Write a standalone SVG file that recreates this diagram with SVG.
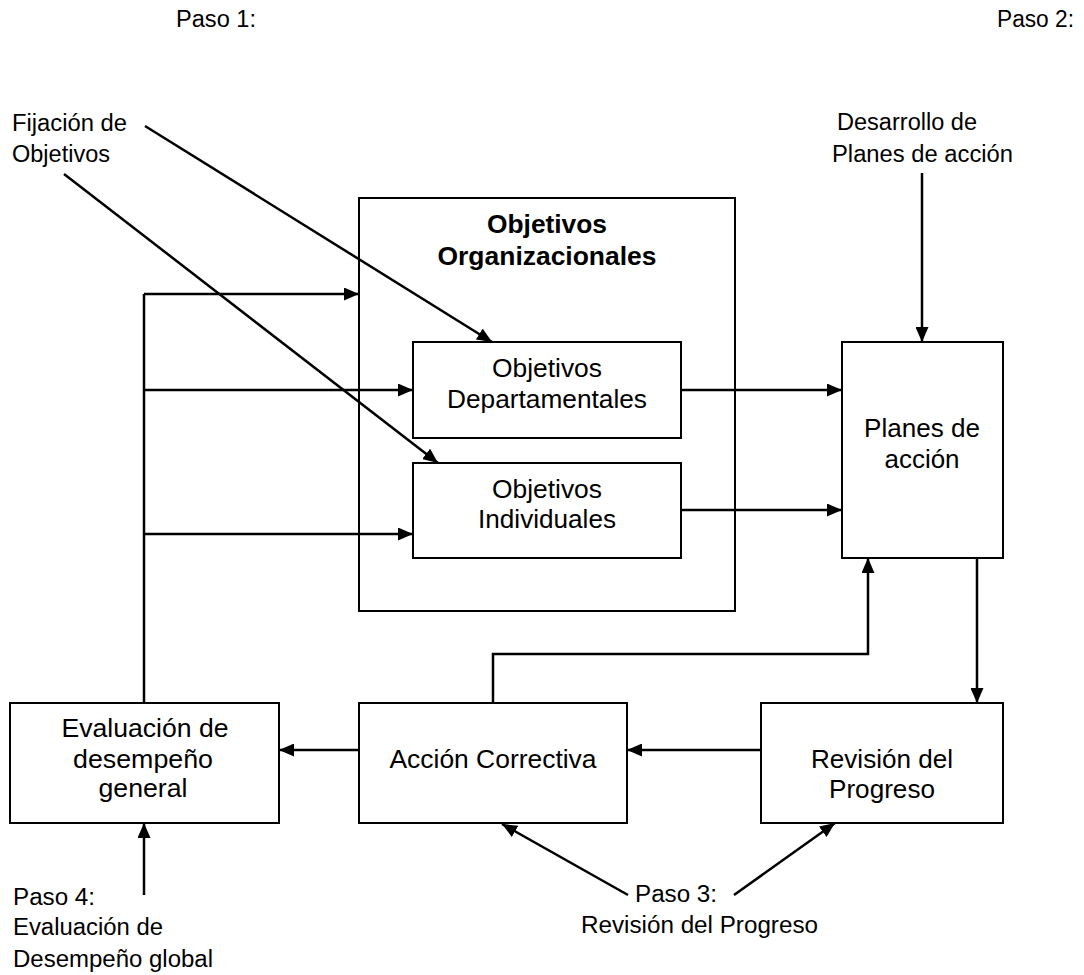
<svg xmlns="http://www.w3.org/2000/svg" width="1084" height="975" viewBox="0 0 1084 975">
<style>
.box{fill:#fff;stroke:#000;stroke-width:2}
.ln{fill:none;stroke:#000;stroke-width:2.5}
.t{font-family:"Liberation Sans",Arial,sans-serif;font-size:25px;fill:#000}
.s{font-family:"Liberation Sans",Arial,sans-serif;font-size:23px;fill:#000}
.b{font-family:"Liberation Sans",Arial,sans-serif;font-size:25px;font-weight:bold;fill:#000}
.m{text-anchor:middle}
</style>
<defs>
<marker id="ah" viewBox="0 0 15 13" refX="15" refY="6.5" markerWidth="15" markerHeight="13" markerUnits="userSpaceOnUse" orient="auto">
<path d="M0,0 L15,6.5 L0,13 Z" fill="#000"/>
</marker>
</defs>
<rect width="1084" height="975" fill="#fff"/>
<g id="org">
<rect class="box" x="359" y="198" width="376" height="413"/>
<text class="b m" x="547" y="233" textLength="120" lengthAdjust="spacingAndGlyphs">Objetivos</text>
<text class="b m" x="547" y="265" textLength="219" lengthAdjust="spacingAndGlyphs">Organizacionales</text>
</g>
<g id="dept">
<rect class="box" x="413" y="342" width="268" height="96"/>
<text class="t m" x="547" y="377" textLength="110" lengthAdjust="spacingAndGlyphs">Objetivos</text>
<text class="t m" x="547" y="408" textLength="200" lengthAdjust="spacingAndGlyphs">Departamentales</text>
</g>
<g id="indiv">
<rect class="box" x="413" y="463" width="268" height="95"/>
<text class="t m" x="547" y="498" textLength="110" lengthAdjust="spacingAndGlyphs">Objetivos</text>
<text class="t m" x="547" y="528" textLength="138" lengthAdjust="spacingAndGlyphs">Individuales</text>
</g>
<g id="planes">
<rect class="box" x="842" y="342" width="161" height="216"/>
<text class="t m" x="922" y="437" textLength="116" lengthAdjust="spacingAndGlyphs">Planes de</text>
<text class="t m" x="922" y="468" textLength="75" lengthAdjust="spacingAndGlyphs">acción</text>
</g>
<g id="evaluacion">
<rect class="box" x="10" y="703" width="269" height="120"/>
<text class="t m" x="145" y="737" textLength="167" lengthAdjust="spacingAndGlyphs">Evaluación de</text>
<text class="t m" x="143" y="768" textLength="140" lengthAdjust="spacingAndGlyphs">desempeño</text>
<text class="t m" x="143" y="797" textLength="89" lengthAdjust="spacingAndGlyphs">general</text>
</g>
<g id="accion">
<rect class="box" x="359" y="703" width="268" height="120"/>
<text class="t m" x="493" y="768" textLength="207" lengthAdjust="spacingAndGlyphs">Acción Correctiva</text>
</g>
<g id="revision">
<rect class="box" x="761" y="703" width="242" height="120"/>
<text class="t m" x="882" y="768" textLength="142" lengthAdjust="spacingAndGlyphs">Revisión del</text>
<text class="t m" x="882" y="798" textLength="106" lengthAdjust="spacingAndGlyphs">Progreso</text>
</g>
<g id="labels">
<text class="s" x="176" y="27" textLength="80" lengthAdjust="spacingAndGlyphs">Paso 1:</text>
<text class="s" x="997" y="27" textLength="77" lengthAdjust="spacingAndGlyphs">Paso 2:</text>
<text class="s" x="12" y="131" textLength="115" lengthAdjust="spacingAndGlyphs">Fijación de</text>
<text class="s" x="12" y="162" textLength="98" lengthAdjust="spacingAndGlyphs">Objetivos</text>
<text class="s" x="837" y="130" textLength="140" lengthAdjust="spacingAndGlyphs">Desarrollo de</text>
<text class="s" x="832" y="162" textLength="181" lengthAdjust="spacingAndGlyphs">Planes de acción</text>
<text class="s" x="13" y="905" textLength="82" lengthAdjust="spacingAndGlyphs">Paso 4:</text>
<text class="s" x="13" y="935" textLength="150" lengthAdjust="spacingAndGlyphs">Evaluación de</text>
<text class="s" x="13" y="967" textLength="200" lengthAdjust="spacingAndGlyphs">Desempeño global</text>
<text class="s" x="635" y="902" textLength="82" lengthAdjust="spacingAndGlyphs">Paso 3:</text>
<text class="s" x="581" y="933" textLength="237" lengthAdjust="spacingAndGlyphs">Revisión del Progreso</text>
</g>
<g id="connectors">
<line class="ln" x1="145" y1="126" x2="492" y2="342" marker-end="url(#ah)"/>
<line class="ln" x1="64" y1="174" x2="438" y2="463" marker-end="url(#ah)"/>
<path class="ln" d="M144,703 V294"/>
<line class="ln" x1="144" y1="294" x2="359" y2="294" marker-end="url(#ah)"/>
<line class="ln" x1="144" y1="390" x2="413" y2="390" marker-end="url(#ah)"/>
<line class="ln" x1="144" y1="534" x2="413" y2="534" marker-end="url(#ah)"/>
<line class="ln" x1="681" y1="390" x2="842" y2="390" marker-end="url(#ah)"/>
<line class="ln" x1="681" y1="510" x2="842" y2="510" marker-end="url(#ah)"/>
<line class="ln" x1="922" y1="173" x2="922" y2="342" marker-end="url(#ah)"/>
<line class="ln" x1="977" y1="558" x2="977" y2="703" marker-end="url(#ah)"/>
<line class="ln" x1="761" y1="750" x2="627" y2="750" marker-end="url(#ah)"/>
<line class="ln" x1="359" y1="750" x2="279" y2="750" marker-end="url(#ah)"/>
<path class="ln" d="M493,703 V654 H868 V558" marker-end="url(#ah)"/>
<line class="ln" x1="144" y1="895" x2="144" y2="823" marker-end="url(#ah)"/>
<line class="ln" x1="628" y1="895" x2="502" y2="824" marker-end="url(#ah)"/>
<line class="ln" x1="734" y1="895" x2="835" y2="823" marker-end="url(#ah)"/>
</g>
</svg>
